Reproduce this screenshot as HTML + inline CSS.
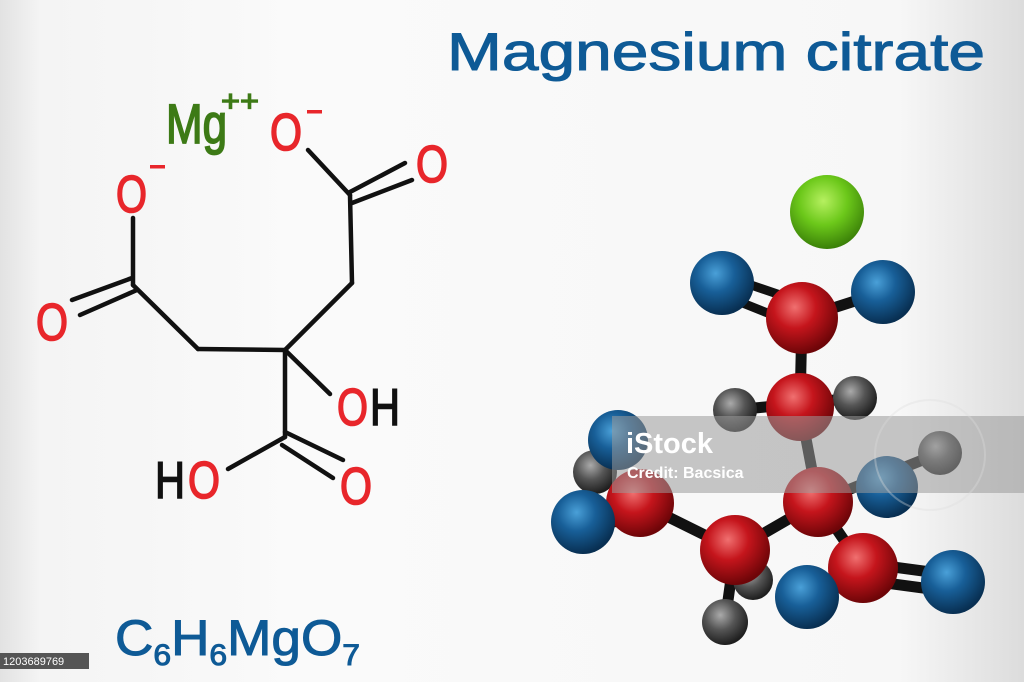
<!DOCTYPE html>
<html><head><meta charset="utf-8"><style>
html,body{margin:0;padding:0}
body{width:1024px;height:682px;overflow:hidden;background:linear-gradient(90deg,#e2e2e2 0px,#f4f4f4 40px,#fafafa 300px,#f7f7f7 900px,#dcdcdc 1024px);font-family:"Liberation Sans",sans-serif}
svg{position:absolute;left:0;top:0}
</style></head><body>
<svg width="1024" height="682" viewBox="0 0 1024 682">
<defs>
<radialGradient id="r" cx="0.4" cy="0.35" r="0.65"><stop offset="0" stop-color="#f07070"/><stop offset="0.45" stop-color="#c5151c"/><stop offset="1" stop-color="#6e0508"/></radialGradient>
<radialGradient id="b" cx="0.4" cy="0.35" r="0.65"><stop offset="0" stop-color="#4aa0d8"/><stop offset="0.45" stop-color="#185f98"/><stop offset="1" stop-color="#082f52"/></radialGradient>
<radialGradient id="g" cx="0.4" cy="0.35" r="0.65"><stop offset="0" stop-color="#aaa"/><stop offset="0.5" stop-color="#555"/><stop offset="1" stop-color="#1e1e1e"/></radialGradient>
<radialGradient id="m" cx="0.45" cy="0.35" r="0.65"><stop offset="0" stop-color="#b6f060"/><stop offset="0.5" stop-color="#6cc81a"/><stop offset="1" stop-color="#3a8008"/></radialGradient>
</defs>
<text x="447" y="70" font-size="53" fill="#0e5a96" stroke="#0e5a96" stroke-width="1" textLength="538" lengthAdjust="spacingAndGlyphs">Magnesium citrate</text>
<g stroke="#111" stroke-width="4.5" stroke-linecap="round" fill="none">
<line x1="308" y1="150" x2="350" y2="195"/>
<line x1="350" y1="192" x2="405" y2="163"/>
<line x1="352" y1="203" x2="412" y2="180"/>
<line x1="350" y1="195" x2="352" y2="283"/>
<line x1="352" y1="283" x2="285" y2="350"/>
<line x1="285" y1="350" x2="198" y2="349"/>
<line x1="198" y1="349" x2="133" y2="285"/>
<line x1="132" y1="278" x2="72" y2="300"/>
<line x1="137" y1="290" x2="80" y2="315"/>
<line x1="133" y1="285" x2="133" y2="218"/>
<line x1="285" y1="350" x2="330" y2="394"/>
<line x1="285" y1="350" x2="285" y2="437"/>
<line x1="285" y1="437" x2="228" y2="469"/>
<line x1="285" y1="432" x2="343" y2="460"/>
<line x1="282" y1="445" x2="333" y2="478"/>
</g>
<g font-size="52" fill="#e8262b" stroke="#e8262b" stroke-width="1.6">
<text x="270" y="150" textLength="32" lengthAdjust="spacingAndGlyphs">O</text>
<text x="416" y="182" textLength="32" lengthAdjust="spacingAndGlyphs">O</text>
<text x="116" y="212" textLength="31" lengthAdjust="spacingAndGlyphs">O</text>
<text x="36" y="340" textLength="32" lengthAdjust="spacingAndGlyphs">O</text>
<text x="337" y="425" textLength="31" lengthAdjust="spacingAndGlyphs">O</text>
<text x="188" y="498" textLength="32" lengthAdjust="spacingAndGlyphs">O</text>
<text x="340" y="504" textLength="32" lengthAdjust="spacingAndGlyphs">O</text>
</g>
<g fill="#e8262b"><rect x="307" y="110" width="15" height="3.5"/><rect x="150" y="165" width="15" height="3.5"/></g>
<g font-size="52" fill="#111" stroke="#111" stroke-width="1.6">
<text x="370" y="425" textLength="30" lengthAdjust="spacingAndGlyphs">H</text>
<text x="155" y="498" textLength="30" lengthAdjust="spacingAndGlyphs">H</text>
</g>
<text x="166" y="143" font-size="56" fill="#3d7a16" stroke="#3d7a16" stroke-width="1.8" textLength="61" lengthAdjust="spacingAndGlyphs">Mg</text>
<text x="221" y="111" font-size="30" fill="#3d7a16" stroke="#3d7a16" stroke-width="1.2" textLength="38" lengthAdjust="spacingAndGlyphs">++</text>
<text x="115" y="655" fill="#0e5a96" stroke="#0e5a96" stroke-width="1" font-size="50" textLength="245" lengthAdjust="spacingAndGlyphs">C<tspan font-size="30" dy="10">6</tspan><tspan dy="-10">H</tspan><tspan font-size="30" dy="10">6</tspan><tspan dy="-10">MgO</tspan><tspan font-size="30" dy="10">7</tspan></text>
<rect x="0" y="653" width="89" height="16" fill="#555"/>
<text x="3" y="665" font-size="11" fill="#fff">1203689769</text>
<g stroke="#111" stroke-width="11" stroke-linecap="round">
<line x1="883" y1="292" x2="802" y2="318"/>
<line x1="802" y1="318" x2="800" y2="407"/>
<line x1="735" y1="410" x2="855" y2="398"/>
<line x1="800" y1="407" x2="818" y2="502"/>
<line x1="818" y1="502" x2="940" y2="453"/>
<line x1="640" y1="503" x2="735" y2="550"/>
<line x1="735" y1="550" x2="818" y2="502"/>
<line x1="818" y1="502" x2="863" y2="568"/>
<line x1="863" y1="563" x2="953" y2="575"/>
<line x1="863" y1="580" x2="953" y2="592"/>
<line x1="735" y1="550" x2="725" y2="622"/>
<line x1="583" y1="515" x2="640" y2="498"/>
<line x1="583" y1="530" x2="640" y2="515"/>
</g>
<g stroke="#111" stroke-width="9" stroke-linecap="round">
<line x1="748" y1="284" x2="795" y2="300"/>
<line x1="740" y1="302" x2="785" y2="320"/>
</g>
<circle cx="827" cy="212" r="37" fill="url(#m)"/>
<circle cx="595" cy="472" r="22" fill="url(#g)"/>
<circle cx="753" cy="580" r="20" fill="url(#g)"/>
<circle cx="722" cy="283" r="32" fill="url(#b)"/>
<circle cx="883" cy="292" r="32" fill="url(#b)"/>
<circle cx="802" cy="318" r="36" fill="url(#r)"/>
<circle cx="618" cy="440" r="30" fill="url(#b)"/>
<circle cx="735" cy="410" r="22" fill="url(#g)"/>
<circle cx="855" cy="398" r="22" fill="url(#g)"/>
<circle cx="800" cy="407" r="34" fill="url(#r)"/>
<circle cx="940" cy="453" r="22" fill="url(#g)"/>
<circle cx="887" cy="487" r="31" fill="url(#b)"/>
<circle cx="640" cy="503" r="34" fill="url(#r)"/>
<circle cx="583" cy="522" r="32" fill="url(#b)"/>
<circle cx="818" cy="502" r="35" fill="url(#r)"/>
<circle cx="735" cy="550" r="35" fill="url(#r)"/>
<circle cx="725" cy="622" r="23" fill="url(#g)"/>
<circle cx="863" cy="568" r="35" fill="url(#r)"/>
<circle cx="807" cy="597" r="32" fill="url(#b)"/>
<circle cx="953" cy="582" r="32" fill="url(#b)"/>
<rect x="612" y="416" width="412" height="77" fill="#9a9a9a" fill-opacity="0.55"/>
<circle cx="930" cy="455" r="55" fill="none" stroke="#ddd" stroke-opacity="0.35" stroke-width="2"/>
<text x="626" y="453" font-size="29" font-weight="bold" fill="#fff">iStock</text>
<text x="627" y="478" font-size="16" font-weight="bold" fill="#fff">Credit: Bacsica</text>
</svg>
</body></html>
